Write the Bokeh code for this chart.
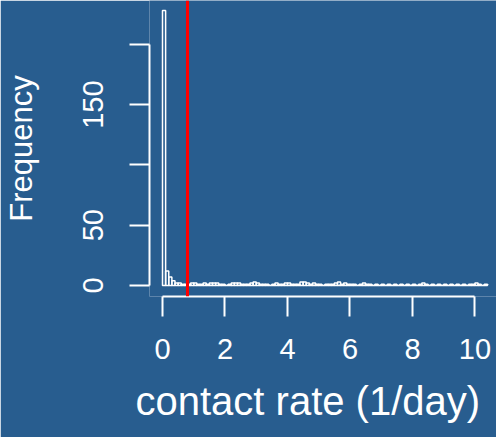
from bokeh.plotting import figure
from bokeh.models import Range1d, FixedTicker, Span, Title, ColumnDataSource
from bokeh.embed import file_html
from bokeh.resources import INLINE

# --- data ---
bin_width = 0.1
counts = [228, 12, 7, 4, 2, 2, 1, 1, 1, 2,
          2, 1, 1, 2, 1, 2, 2, 2, 1, 1,
          0, 1, 2, 2, 2, 1, 1, 1, 2, 3,
          2, 1, 1, 1, 0, 1, 2, 1, 1, 2,
          2, 1, 1, 1, 3, 3, 2, 1, 2, 1,
          1, 0, 1, 1, 1, 2, 3, 1, 2, 1,
          1, 1, 0, 1, 2, 1, 1, 0, 1, 0,
          1, 0, 1, 0, 1, 0, 1, 0, 1, 0,
          1, 0, 1, 2, 1, 0, 1, 0, 1, 0,
          1, 0, 1, 0, 1, 0, 1, 0, 1, 1,
          2, 1, 0, 1]
mean_rate = 0.8
x_ticks = [0, 2, 4, 6, 8, 10]
y_ticks = [0, 50, 100, 150, 200]
y_hidden = [100, 200]
x_title = "contact rate (1/day)"
y_title = "Frequency"

lefts = [i * bin_width for i in range(len(counts))]
rights = [l + bin_width for l in lefts]
src = ColumnDataSource(dict(left=lefts, right=rights, top=counts, bottom=[0] * len(counts)))

BG = "#285D8F"
SANS = "Liberation Sans"
p = figure(width=496, height=437, output_backend="svg", toolbar_location=None,
           x_range=Range1d(-0.416, 10.69), y_range=Range1d(-9.1, 236.3),
           min_border_left=149, min_border_right=0, min_border_top=0, min_border_bottom=141)
p.background_fill_color = BG
p.border_fill_color = BG
p.outline_line_color = None
p.grid.visible = False

p.quad(left="left", right="right", top="top", bottom="bottom", source=src,
       fill_color=None, line_color="white", line_width=1.5)

p.add_layout(Span(location=mean_rate, dimension="height", line_color="#FF0000", line_width=3))

for ax in (p.xaxis[0], p.yaxis[0]):
    ax.axis_line_color = "white"
    ax.axis_line_width = 2
    ax.major_tick_line_color = "white"
    ax.major_tick_line_width = 2
    ax.major_tick_out = 20
    ax.major_tick_in = 0
    ax.minor_tick_line_color = None
    ax.major_label_text_color = "white"
    ax.major_label_text_font = SANS
    ax.major_label_text_font_size = "29px"

p.xaxis[0].ticker = FixedTicker(ticks=x_ticks)
p.xaxis[0].bounds = (x_ticks[0], x_ticks[-1])
p.xaxis[0].major_label_standoff = 22

p.yaxis[0].ticker = FixedTicker(ticks=y_ticks)
p.yaxis[0].bounds = (y_ticks[0], y_ticks[-1])
p.yaxis[0].major_label_overrides = {v: "" for v in y_hidden}
p.yaxis[0].major_label_orientation = "vertical"
p.yaxis[0].major_label_standoff = 26
p.yaxis[0].axis_label = y_title
p.yaxis[0].axis_label_text_color = "white"
p.yaxis[0].axis_label_text_font = SANS
p.yaxis[0].axis_label_text_font_style = "normal"
p.yaxis[0].axis_label_text_font_size = "31px"
p.yaxis[0].axis_label_standoff = 42

p.add_layout(Title(text=x_title, align="left", offset=-14, standoff=30,
                   text_color="white", text_font=SANS, text_font_size="40px",
                   text_font_style="normal"), "below")

open("out.html", "w").write(file_html(p, INLINE))
